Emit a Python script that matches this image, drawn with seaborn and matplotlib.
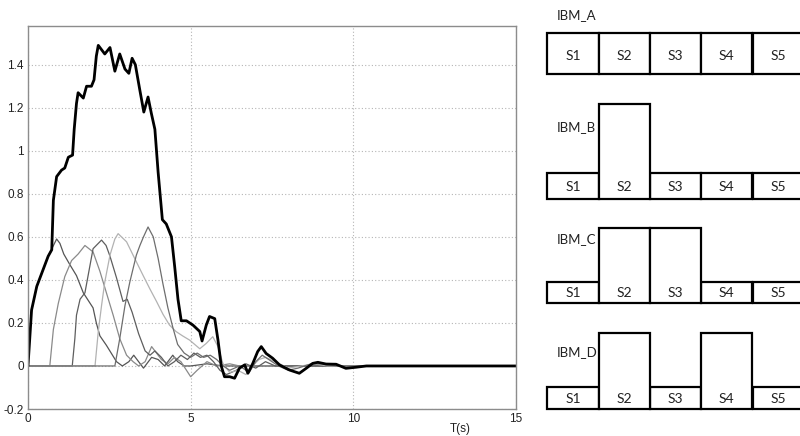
import numpy as np
import pandas as pd
import seaborn as sns
import matplotlib.pyplot as plt

# ---------------- data ----------------
BLACK_T = [0, 0.11, 0.27, 0.47, 0.62, 0.73, 0.78, 0.88, 1.03, 1.13, 1.24, 1.37, 1.42, 1.49, 1.54, 1.7, 1.8, 1.95, 2.03, 2.1,
           2.16, 2.36, 2.52, 2.67, 2.82, 2.98, 3.1, 3.2, 3.3, 3.44, 3.56, 3.69, 3.79, 3.9, 4.0, 4.13, 4.25, 4.41, 4.51,
           4.61, 4.71, 4.87, 5.07, 5.28, 5.35, 5.48, 5.58, 5.74, 5.84, 5.94, 6.04, 6.2, 6.35, 6.5, 6.66, 6.76, 6.91,
           7.06, 7.17, 7.32, 7.52, 7.73, 8.04, 8.34, 8.55, 8.75, 8.91, 9.16, 9.47, 9.77, 10.08, 10.4, 15]
BLACK_V = [0, 0.26, 0.37, 0.45, 0.51, 0.54, 0.77, 0.88, 0.91, 0.92, 0.97, 0.98, 1.10, 1.22, 1.27, 1.245, 1.30, 1.30, 1.33, 1.44,
           1.49, 1.45, 1.48, 1.37, 1.45, 1.38, 1.36, 1.43, 1.40, 1.28, 1.18, 1.25, 1.175, 1.10, 0.90, 0.68, 0.66, 0.60, 0.46,
           0.31, 0.21, 0.21, 0.19, 0.16, 0.116, 0.19, 0.23, 0.22, 0.12, 0.0, -0.05, -0.05, -0.057, -0.01, 0.005, -0.034, 0.012,
           0.067, 0.09, 0.058, 0.036, 0.005, -0.019, -0.034, -0.011, 0.012, 0.017, 0.009, 0.008, -0.011, -0.006, 0, 0]

C1_T = [0, 0.1, 0.27, 0.47, 0.62, 0.75, 0.88, 0.98, 1.1, 1.29, 1.49, 1.7, 2.0, 2.1, 2.21, 2.41, 2.72, 2.9, 3.1, 3.25,
        3.4, 3.55, 3.8, 4.0, 4.2, 4.45, 4.6, 4.8, 5.0, 5.5, 6.0, 15]
C1_V = [0, 0.25, 0.37, 0.45, 0.51, 0.55, 0.59, 0.57, 0.52, 0.47, 0.42, 0.34, 0.27, 0.2, 0.14, 0.096, 0.02, 0.0, 0.02, 0.05,
        0.02, -0.01, 0.04, 0.03, 0.0, 0.05, 0.02, 0.0, 0.0, 0.01, 0, 0]

C2_T = [0, 0.67, 0.78, 0.93, 1.13, 1.34, 1.54, 1.75, 2.0, 2.21, 2.41, 2.62, 2.82, 3.03, 3.23, 3.4, 3.6, 3.8, 3.95, 4.1,
        4.3, 4.5, 4.7, 5.0, 5.2, 5.5, 5.8, 6.2, 6.5, 15]
C2_V = [0, 0, 0.17, 0.29, 0.415, 0.49, 0.52, 0.56, 0.53, 0.44, 0.34, 0.235, 0.127, 0.05, 0.02, 0.0, 0.02, 0.09, 0.06, 0.03,
        0.01, 0.04, 0.02, -0.05, -0.02, 0.02, 0.0, 0.01, 0.0, 0]

C3_T = [0, 1.36, 1.44, 1.49, 1.6, 1.75, 2.0, 2.26, 2.4, 2.52, 2.72, 2.92, 3.05, 3.2, 3.4, 3.6, 3.75, 3.9, 4.1, 4.3,
        4.5, 4.7, 4.9, 5.1, 5.3, 5.5, 5.7, 5.9, 6.1, 6.4, 6.7, 7.0, 7.3, 7.6, 8.0, 15]
C3_V = [0, 0, 0.127, 0.236, 0.31, 0.34, 0.545, 0.585, 0.56, 0.51, 0.41, 0.3, 0.31, 0.25, 0.15, 0.07, 0.05, 0.07, 0.04, 0.0,
        0.02, 0.05, 0.03, 0.06, 0.04, 0.05, 0.02, -0.02, -0.04, -0.02, 0.01, -0.01, 0.02, 0.0, 0, 0]

C4_T = [0, 2.06, 2.16, 2.26, 2.36, 2.52, 2.67, 2.77, 3.03, 3.23, 3.54, 3.74, 3.95, 4.15, 4.35, 4.55, 4.75, 4.97, 5.28,
        5.48, 5.68, 5.84, 5.99, 6.2, 6.45, 6.7, 6.9, 7.1, 7.3, 7.6, 8.0, 8.4, 8.8, 9.2, 15]
C4_V = [0, 0, 0.16, 0.28, 0.39, 0.515, 0.59, 0.615, 0.577, 0.515, 0.42, 0.36, 0.3, 0.24, 0.19, 0.16, 0.14, 0.12, 0.08,
        0.105, 0.136, 0.09, 0.012, -0.03, -0.02, -0.04, 0.0, 0.03, 0.04, 0.02, -0.01, 0.0, 0.01, 0.0, 0]

C5_T = [0, 2.67, 2.82, 2.98, 3.13, 3.33, 3.44, 3.55, 3.69, 3.85, 4.0, 4.15, 4.3, 4.45, 4.6, 4.8, 5.0, 5.2, 5.4, 5.6,
        5.8, 6.0, 6.2, 6.5, 6.8, 7.0, 7.2, 7.4, 7.7, 8.0, 8.3, 8.7, 9.0, 9.5, 10, 15]
C5_V = [0, 0, 0.127, 0.28, 0.39, 0.515, 0.56, 0.6, 0.646, 0.6, 0.5, 0.38, 0.27, 0.18, 0.1, 0.06, 0.04, 0.06, 0.04, 0.05,
        0.03, 0.0, -0.02, 0.0, -0.03, 0.02, 0.05, 0.03, 0.0, -0.02, -0.01, 0.01, 0.01, 0.0, 0, 0]

X_TICKS = [0, 5, 10, 15]
Y_TICKS = [-0.2, 0, 0.2, 0.4, 0.6, 0.8, 1.0, 1.2, 1.4]
Y_TICK_LABELS = ["-0.2", "0", "0.2", "0.4", "0.6", "0.8", "1", "1.2", "1.4"]
X_LABEL = "T(s)"

SEGMENTS = ["S1", "S2", "S3", "S4", "S5"]
PANEL_NAMES = ["IBM_A", "IBM_B", "IBM_C", "IBM_D"]
PANEL_RAISED = [[0, 0, 0, 0, 0],
                [0, 1, 0, 0, 0],
                [0, 1, 1, 0, 0],
                [0, 1, 0, 1, 0]]

# ---------------- style ----------------
sns.set_theme(style="whitegrid")
plt.rcParams['font.family'] = ['Liberation Sans', 'DejaVu Sans']

fig = plt.figure(figsize=(8, 4.36), dpi=100)
W, H = 800, 436
ax = fig.add_axes([28 / W, 1 - 409 / H, 488 / W, 383 / H])
ax.set_facecolor('white')

thin = [(C1_T, C1_V, '#555555'), (C2_T, C2_V, '#8a8a8a'), (C3_T, C3_V, '#5e5e5e'),
        (C4_T, C4_V, '#b2b2b2'), (C5_T, C5_V, '#6e6e6e')]
for t, v, c in thin:
    sns.lineplot(x=t, y=v, ax=ax, color=c, linewidth=0.9, estimator=None)
sns.lineplot(x=BLACK_T, y=BLACK_V, ax=ax, color='black', linewidth=2.0, estimator=None)

ax.set_xlim(0, 15)
ax.set_ylim(-0.2, 1.58)
ax.set_xticks(X_TICKS)
ax.set_xticklabels([str(v) for v in X_TICKS])
ax.set_yticks(Y_TICKS)
ax.set_yticklabels(Y_TICK_LABELS)
ax.set_xlabel('')
ax.set_ylabel('')
ax.grid(True, linestyle=(0, (1, 2)), color='#b5b5b5', linewidth=0.8)
for s in ax.spines.values():
    s.set_visible(True)
    s.set_color('#8c8c8c')
    s.set_linewidth(1.0)
ax.tick_params(length=0, labelsize=8.5, colors='#222222', pad=3)
fig.text(460 / W, 1 - 429 / H, X_LABEL, ha='center', va='center', fontsize=8.5, color='#222222')

# ---------------- right diagrams ----------------
dax = fig.add_axes([0, 0, 1, 1], facecolor='none')
dax.set_xlim(0, W)
dax.set_ylim(H, 0)
dax.axis('off')

box_left = 547.3
box_w = 51.3
# per panel: (label y, bottom, base height, raised height)
geom = [(15, 74, 41, 41), (127, 199, 26, 95), (239, 303, 21.5, 75), (352, 409, 22, 76)]
lefts = [box_left + i * box_w for i in range(len(SEGMENTS))]
label_font = ['Lato', 'DejaVu Sans']
for name, raised, (ly, bot, bh, th) in zip(PANEL_NAMES, PANEL_RAISED, geom):
    heights = [-(th if r else bh) for r in raised]
    order = sorted(range(len(SEGMENTS)), key=lambda i: raised[i])
    for i in order:
        dax.bar(lefts[i], heights[i], width=box_w, bottom=bot, align='edge',
                facecolor='white', edgecolor='black', linewidth=1.6, zorder=2 + raised[i])
    for i, s in enumerate(SEGMENTS):
        dax.text(lefts[i] + box_w / 2, bot - bh / 2 + (2 if bh > 30 else 0.5), s,
                 ha='center', va='center', fontsize=10, family=label_font, color='#222222', zorder=5)
    dax.text(557, ly, name, ha='left', va='center', fontsize=9.5, family=label_font, color='#222222')

fig.savefig('out.png', dpi=100)
